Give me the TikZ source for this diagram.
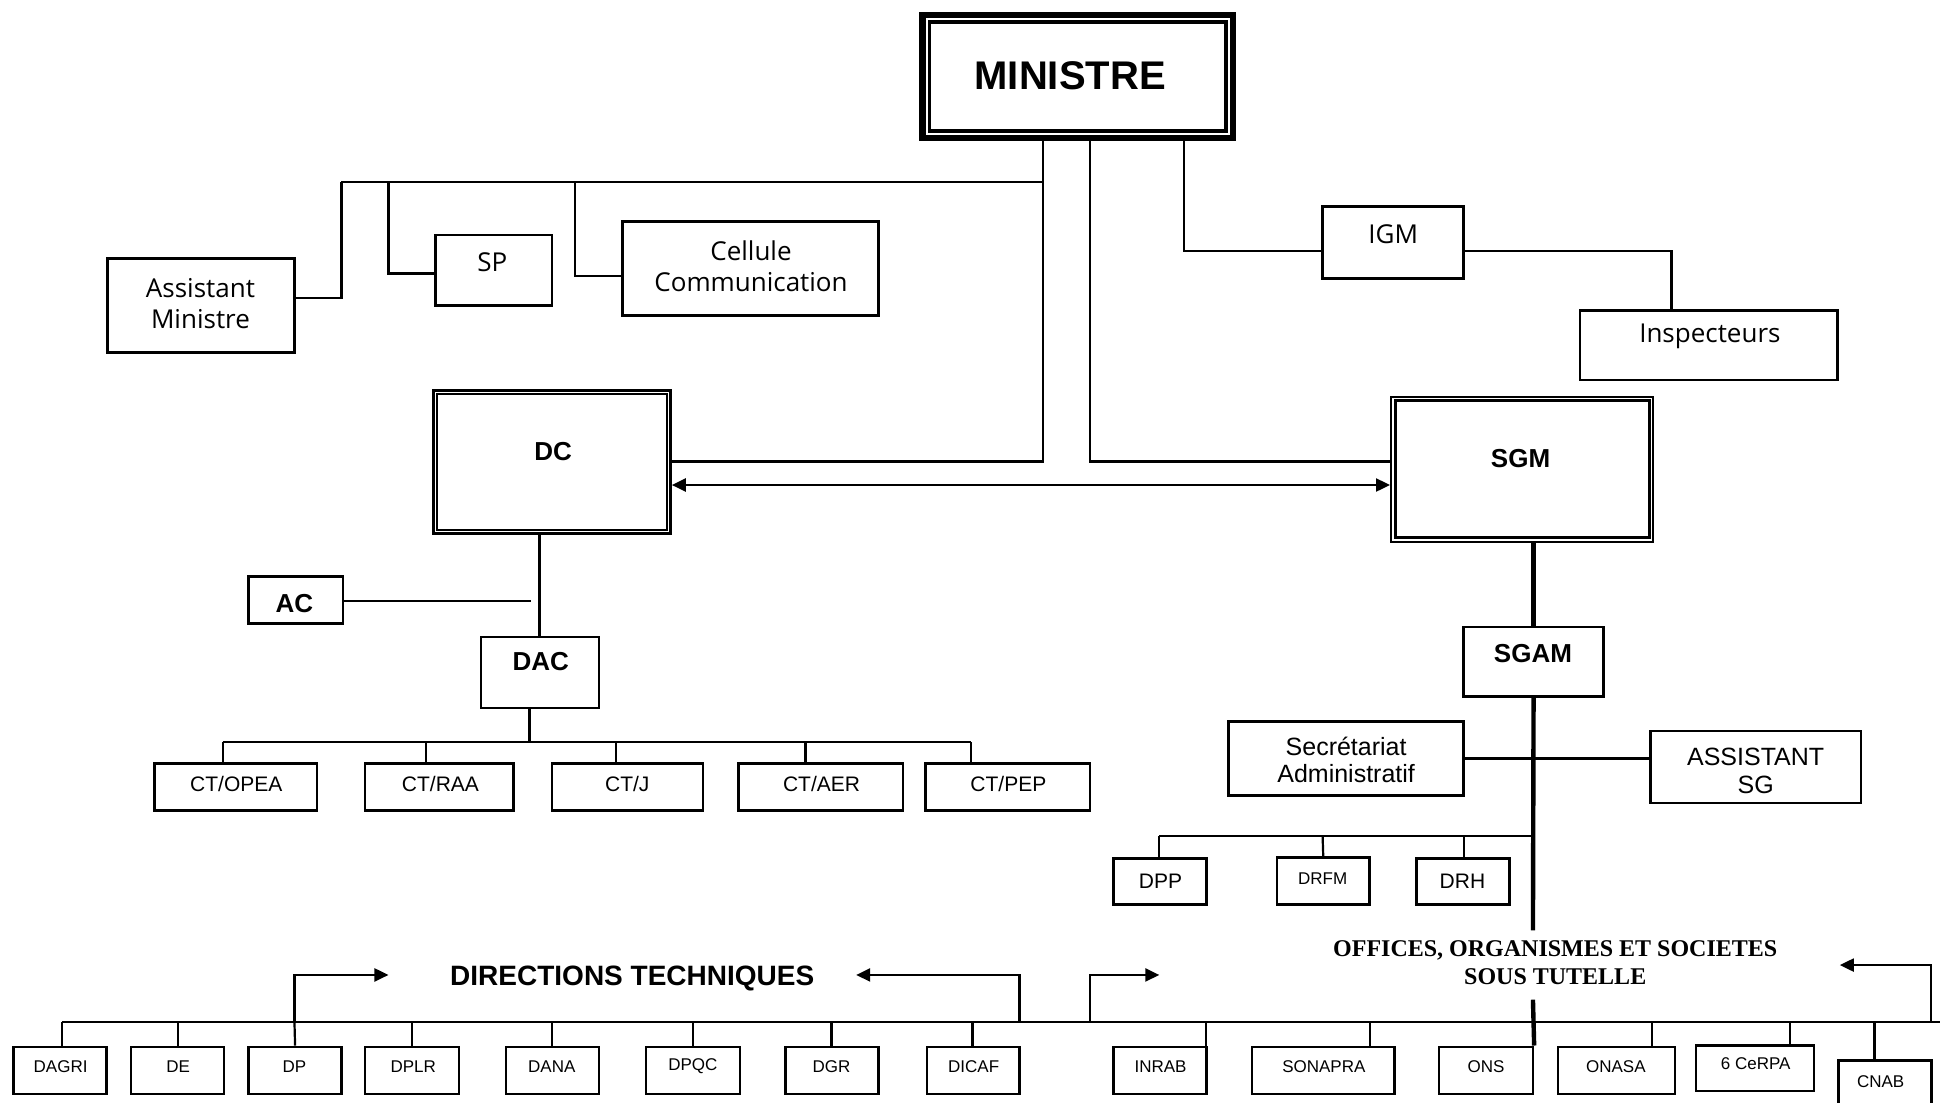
\documentclass[tikz,border=0pt]{standalone}
\usepackage{fontspec}
\setmainfont{Liberation Sans}
\newfontfamily\opensans{Open Sans}
\newfontfamily\timesb{Liberation Serif}
\usetikzlibrary{fit,arrows.meta}
\newcommand\bx[5]{\node[box,fit={(#2,#3) (#4,#5)}] (#1) {};}
\begin{document}
\begin{tikzpicture}[x=0.6186pt,y=-0.6186pt,
  box/.style={draw,line width=1.2pt,inner sep=0pt},
  ln/.style={line width=1.1pt},
  thk/.style={line width=2.2pt},
  arr/.style={line width=1.1pt,-{Triangle[length=7pt,width=6.5pt]}},
  darr/.style={line width=1.1pt,{Triangle[length=7pt,width=6.5pt]}-{Triangle[length=7pt,width=6.5pt]}},
  ttop/.style={inner sep=0pt,align=center,font=\opensans\fontsize{13}{15.5}\selectfont},
  tmid/.style={inner sep=0pt,align=center,font=\fontsize{12.5}{13.6}\selectfont},
  tct/.style={inner sep=0pt,align=center,font=\fontsize{10.5}{12}\selectfont},
  tsm/.style={inner sep=0pt,align=center,font=\fontsize{8.5}{10}\selectfont},
  tb/.style={inner sep=0pt,align=center,font=\bfseries\fontsize{13}{15}\selectfont},
  ]
\useasboundingbox (0,0) rectangle (1568,891);

% ---- MINISTRE (triple border)
\node[draw,line width=2.5pt,inner sep=0pt,fit={(745,11.5) (997,112)}] (min) {};
\draw[line width=0.7pt] ([shift={(4.7,4.7)}]min.north west) rectangle ([shift={(-4.7,-4.7)}]min.south east);
\draw[line width=1.7pt] ([shift={(8.2,8.2)}]min.north west) rectangle ([shift={(-8.2,-8.2)}]min.south east);
\node[inner sep=0pt,font=\bfseries\fontsize{20}{22}\selectfont] at (865,61) {MINISTRE};

% ---- top-left boxes
\bx{ass}{87}{209}{238}{285}
\node[ttop] at (162,245) {Assistant\\Ministre};
\bx{sp}{352}{190}{446}{247}
\node[ttop] at (398,212) {SP};
\bx{cel}{503}{179}{710}{255}
\node[ttop] at (607,215) {Cellule\\Communication};

% ---- IGM / Inspecteurs
\bx{igm}{1069}{167}{1183}{225}
\node[ttop] at (1126,189) {IGM};
\bx{insp}{1277}{251}{1485}{307}
\node[ttop] at (1382,272) {Inspecteurs};

% ---- DC (double border)
\node[draw,line width=1.5pt,inner sep=0pt,fit={(350.2,316) (541.8,431.2)}] (dc) {};
\draw[line width=1pt] ([shift={(4,4)}]dc.north west) rectangle ([shift={(-4,-4)}]dc.south east);
\node[tb] at (447,365) {DC};

% ---- SGM (double border)
\node[draw,line width=1pt,inner sep=0pt,fit={(1124.3,320.8) (1336.2,437.8)}] (sgm) {};
\draw[line width=1.5pt] ([shift={(4,4)}]sgm.north west) rectangle ([shift={(-4,-4)}]sgm.south east);
\node[tb] at (1229,371) {SGM};

% ---- AC / DAC
\bx{ac}{201}{466}{277}{504}
\node[tb] at (238,488) {AC};
\bx{dac}{389}{515}{484}{572}
\node[tb] at (437,535) {DAC};

% ---- CT row
\bx{ct1}{125}{617}{256}{655}
\node[tct] at (191,634) {CT/OPEA};
\bx{ct2}{295}{617}{415}{655}
\node[tct] at (356,634) {CT/RAA};
\bx{ct3}{446}{617}{568}{655}
\node[tct] at (507,634) {CT/J};
\bx{ct4}{597}{617}{730}{655}
\node[tct] at (664,634) {CT/AER};
\bx{ct5}{748}{617}{881}{655}
\node[tct] at (815,634) {CT/PEP};

% ---- SGAM & co
\bx{sgam}{1183}{507}{1296}{563}
\node[tb] at (1239,528) {SGAM};
\bx{sec}{993}{583}{1183}{643}
\node[tmid] at (1088,614) {Secrétariat\\Administratif};
\bx{asg}{1334}{591}{1504}{649}
\node[tmid] at (1419,623) {ASSISTANT\\SG};
\bx{dpp}{900}{694}{975}{731}
\node[tct] at (938,712) {DPP};
\bx{drfm}{1032}{693}{1107}{731}
\node[tsm] at (1069,710) {DRFM};
\bx{drh}{1145}{694}{1220}{731}
\node[tct] at (1182,712) {DRH};

% ---- labels
\node[inner sep=0pt,font=\bfseries\fontsize{14}{16}\selectfont] (dirt) at (511,791) {DIRECTIONS TECHNIQUES};
\node[inner sep=0pt,align=center,font=\timesb\bfseries\fontsize{12}{13.6}\selectfont] (offt) at (1257,778) {OFFICES, ORGANISMES ET SOCIETES\\SOUS TUTELLE};

% ---- bottom row
\bx{b1}{11}{846}{86}{884}     \node[tsm] at (49,862) {DAGRI};
\bx{b2}{106}{846}{181}{884}   \node[tsm] at (144,862) {DE};
\bx{b3}{201}{846}{276}{884}   \node[tsm] at (238,862) {DP};
\bx{b4}{295}{846}{371}{884}   \node[tsm] at (334,862) {DPLR};
\bx{b5}{409}{846}{484}{884}   \node[tsm] at (446,862) {DANA};
\bx{b6}{522}{846}{598}{884}   \node[tsm] at (560,862) {DPQC};
\bx{b7}{635}{846}{710}{884}   \node[tsm] at (672,862) {DGR};
\bx{b8}{749}{846}{824}{884}   \node[tsm] at (787,862) {DICAF};
\bx{b9}{900}{846}{975}{884}   \node[tsm] at (938,862) {INRAB};
\bx{b10}{1012}{846}{1127}{884} \node[tsm] at (1070,862) {SONAPRA};
\bx{b11}{1163}{846}{1239}{884} \node[tsm] at (1201,862) {ONS};
\bx{b12}{1259}{846}{1354}{884} \node[tsm] at (1306,862) {ONASA};
\bx{b13}{1371}{845}{1466}{882} \node[tsm] at (1419,860) {6 CeRPA};
\bx{b14}{1486}{857}{1561}{905} \node[tsm] at (1520,874) {CNAB};

% ---- named bus points
\coordinate (topbus) at (276,147);
\coordinate (pA) at (843,113);
\coordinate (pB) at (881,113);
\coordinate (pC) at (957,113);
\coordinate (ctbus) at (180,600);
\coordinate (ctbusR) at (785,600);
\coordinate (dbus) at (937,676);
\coordinate (botL) at (50,826);
\coordinate (botR) at (1568,826);
\coordinate (acend) at (429,486);
\coordinate (sgv1) at (1239,752);
\coordinate (sgv2) at (1239,808);

% ---- connectors from MINISTRE
\draw[ln] (pA) -- (843,373) -- (dc.east |- 0,373);
\draw[ln] (topbus) -- (pA |- topbus);
\draw[ln] ([yshift=3.7pt]ass.east) -| (topbus);
\draw[ln] (314,147) |- (sp.west |- 0,221);
\draw[ln] (465,147) |- (cel.west |- 0,223);
\draw[ln] (pB) |- (sgm.west |- 0,373);
\draw[ln] (pC) |- (igm.west |- 0,203);
\draw[ln] (igm.east |- 0,203) -| (insp.north -| 1351,0);
\draw[darr] (dc.east |- 0,392) -- (sgm.west |- 0,392);

% ---- DC side
\draw[ln] (dc.south -| 436,0) -- (dac.north -| 436,0);
\draw[ln] (ac.east |- acend) -- (acend);
\draw[ln] (dac.south -| 428,0) -- (428,600);
\draw[ln] (ctbus) -- (ctbusR);
\draw[ln] (ctbus) -- (ct1.north -| ctbus);
\draw[ln] (344,600) -- (ct2.north -| 344,0);
\draw[ln] (498,600) -- (ct3.north -| 498,0);
\draw[ln] (651,600) -- (ct4.north -| 651,0);
\draw[ln] (ctbusR) -- (ct5.north -| ctbusR);

% ---- SGM side
\draw[thk] (sgm.south -| sgam.north) -- (sgam.north);
\draw[thk] (sgam.south) -- (sgv1);
\draw[thk] (sgv2) -- (b11.north east);
\draw[ln] (sec.east) -- (sec.east -| asg.west);
\draw[ln] (dbus) -- (1239,676);
\draw[ln] (dbus) -- (dpp.north -| dbus);
\draw[ln] (1069,676) -- (drfm.north);
\draw[ln] (1183,676) -- (drh.north -| 1183,0);

% ---- bottom bus
\draw[ln] (botL) -- (botR);
\foreach \n/\x in {b1/50,b2/144,b4/333,b5/446,b6/560,b7/672,b8/786,b9/975,b10/1107,b12/1335,b13/1447,b14/1515}
  \draw[ln] (\x,826) -- (\n.north -| \x,0);
\draw[ln] (238,826) -- (b3.north);
\draw[arr] (238,826) -- (238,788) -- (314,788);
\draw[arr] (824,826) -- (824,788) -- (692,788);
\draw[arr] (881,826) -- (881,788) -- (937,788);
\draw[arr] (1561,826) -- (1561,780) -- (1487,780);
\end{tikzpicture}
\end{document}
